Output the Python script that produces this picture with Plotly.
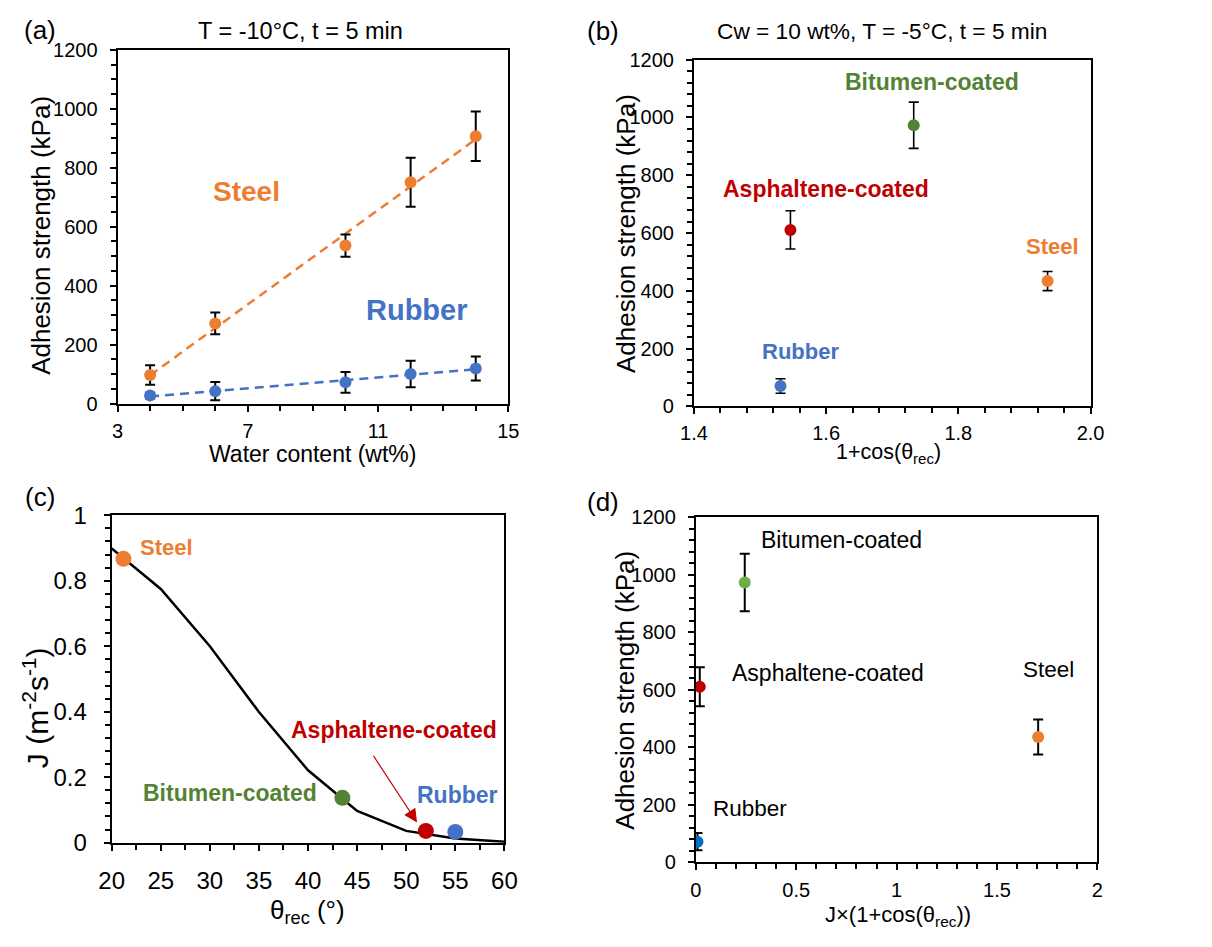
import numpy as np
import plotly.graph_objects as go

W, H = 1212, 947
FONT = "Liberation Sans, Arial, sans-serif"

ORANGE = "#ED7D31"
BLUE = "#4472C4"
GREEN = "#548235"
GREEN_D = "#70AD47"
RED = "#C00000"
BLUE_D = "#0070C0"

# ---------------- data ----------------
# (a) adhesion vs water content
a_water = [4, 6, 10, 12, 14]
a_steel = [97, 272, 536, 751, 907]
a_steel_err = [33, 37, 38, 83, 84]
a_rubber = [27, 42, 72, 100, 119]
a_rubber_err = [10, 31, 35, 45, 41]

# (b) adhesion vs 1+cos(theta_rec)
b_names = ["Rubber", "Asphaltene-coated", "Bitumen-coated", "Steel"]
b_x = [1.531, 1.546, 1.7325, 1.935]
b_y = [71, 611, 973, 434]
b_err = [25, 66, 80, 33]

# (c) nucleation rate J vs theta_rec
c_theta = [20, 25, 30, 35, 40, 45, 50, 55, 60]
c_J = [0.899, 0.775, 0.600, 0.399, 0.221, 0.097, 0.036, 0.013, 0.003]
c_names = ["Steel", "Bitumen-coated", "Asphaltene-coated", "Rubber"]
c_pt_theta = [21.2, 43.5, 52.0, 55.0]
c_pt_J = [0.867, 0.137, 0.036, 0.033]

# (d) adhesion vs J*(1+cos(theta_rec))
d_names = ["Rubber", "Asphaltene-coated", "Bitumen-coated", "Steel"]
d_x = [0.008, 0.0195, 0.2435, 1.705]
d_y = [71, 610, 973, 435]
d_err = [30, 68, 100, 61]

b_colors = [BLUE, RED, GREEN, ORANGE]
c_colors = [ORANGE, GREEN, RED, BLUE]
d_colors = [BLUE_D, RED, GREEN_D, ORANGE]


def px(x):
    return x / W


def py(y):
    return 1 - y / H


fig = go.Figure()

# ---- panel (a)
for yv, col in [(a_steel, ORANGE), (a_rubber, BLUE)]:
    k, b0 = np.polyfit(a_water, yv, 1)
    xs = [min(a_water), max(a_water)]
    fig.add_trace(go.Scatter(x=xs, y=[k * v + b0 for v in xs], mode="lines",
                             line=dict(color=col, width=2.5, dash="9px,6px"),
                             xaxis="x", yaxis="y", showlegend=False, hoverinfo="skip"))
for yv, ev, col in [(a_steel, a_steel_err, ORANGE), (a_rubber, a_rubber_err, BLUE)]:
    fig.add_trace(go.Scatter(x=a_water, y=yv, mode="markers",
                             marker=dict(color=col, size=12),
                             error_y=dict(type="data", array=ev, color="black", thickness=2, width=5),
                             xaxis="x", yaxis="y", showlegend=False))

# ---- panel (b)
for i in range(4):
    fig.add_trace(go.Scatter(x=[b_x[i]], y=[b_y[i]], mode="markers",
                             marker=dict(color=b_colors[i], size=12),
                             error_y=dict(type="data", array=[b_err[i]], color="black", thickness=1.6, width=5),
                             xaxis="x2", yaxis="y2", showlegend=False, name=b_names[i]))

# ---- panel (c)
fig.add_trace(go.Scatter(x=c_theta, y=c_J, mode="lines", line=dict(color="black", width=2.5),
                         xaxis="x3", yaxis="y3", showlegend=False))
for i in range(4):
    fig.add_trace(go.Scatter(x=[c_pt_theta[i]], y=[c_pt_J[i]], mode="markers",
                             marker=dict(color=c_colors[i], size=16),
                             xaxis="x3", yaxis="y3", showlegend=False, name=c_names[i]))

# ---- panel (d)
for i in range(4):
    fig.add_trace(go.Scatter(x=[d_x[i]], y=[d_y[i]], mode="markers",
                             marker=dict(color=d_colors[i], size=12),
                             error_y=dict(type="data", array=[d_err[i]], color="black", thickness=2, width=5),
                             xaxis="x4", yaxis="y4", showlegend=False, name=d_names[i]))


def axis(domain, rng, dtick, minor, tick0=None, fs=20, fmt=None, anchor=None, standoff=4):
    d = dict(domain=domain, range=rng, dtick=dtick, showline=True, linecolor="black",
             linewidth=2, mirror=True, ticks="outside", tickcolor="black", tickwidth=2,
             ticklen=6, showgrid=False, zeroline=False, ticklabelstandoff=standoff,
             tickfont=dict(family=FONT, size=fs, color="black"),
             minor=dict(ticks="outside", dtick=minor, ticklen=5, tickwidth=2,
                        tickcolor="black", showgrid=False),
             anchor=anchor, fixedrange=True)
    if tick0 is not None:
        d["tick0"] = tick0
    if fmt:
        d["tickformat"] = fmt
    return d


fig.update_layout(
    width=W, height=H, margin=dict(l=0, r=0, t=0, b=0),
    paper_bgcolor="white", plot_bgcolor="white",
    font=dict(family=FONT, color="black"),
    xaxis=axis([px(106), px(506)], [3, 15], 4, 1, tick0=3, anchor="y", standoff=2),
    yaxis=axis([py(401), py(37)], [0, 1200], 200, 50, anchor="x", standoff=8),
    xaxis2=axis([px(696), px(1102)], [1.4, 2.0], 0.2, 0.04, tick0=1.4, fmt=".1f", anchor="y2", standoff=2),
    yaxis2=axis([py(404), py(47)], [0, 1200], 200, 40, anchor="x2", standoff=8),
    xaxis3=axis([px(100), px(502)], [20, 60], 5, 2.5, tick0=20, fs=24, anchor="y3", standoff=10),
    yaxis3=axis([py(853), py(516)], [0, 1], 0.2, 0.04, fs=24, anchor="x3", standoff=12),
    xaxis4=axis([px(698), px(1109)], [0, 2], 0.5, 0.1, tick0=0, anchor="y4", standoff=3),
    yaxis4=axis([py(873), py(518)], [0, 1200], 200, 40, anchor="x4", standoff=8),
)

ann = []


def text(x, y, s, size, color="black", bold=False, angle=0, xanchor="center"):
    if bold:
        s = "<b>" + s + "</b>"
    ann.append(dict(x=px(x), y=py(y), xref="paper", yref="paper", text=s, showarrow=False,
                    font=dict(family=FONT, size=size, color=color), textangle=angle,
                    xanchor=xanchor, yanchor="middle"))


# panel letters
text(27, 16, "(a)", 26)
text(603, 17, "(b)", 26)
text(27, 497, "(c)", 26)
text(603, 502, "(d)", 26)

# titles
text(293, 17, "T = -10\u00b0C, t = 5 min", 23.5)
text(889, 17, "Cw = 10 wt%, T = -5\u00b0C, t = 5 min", 22.7)

# axis titles
text(28, 228, "Adhesion strength (kPa)", 26, angle=-90)
text(306, 453, "Water content (wt%)", 23)
text(626, 226, "Adhesion strength (kPa)", 26, angle=-90)
text(895, 452, "1+cos(\u03b8<sub>rec</sub>)", 21.5)
text(22, 714, "J (m<sup>-2</sup>s<sup>-1</sup>)", 30, angle=-90)
text(300, 924, "\u03b8<sub>rec</sub> (\u00b0)", 26)
text(626, 696, "Adhesion strength (kPa)", 26, angle=-90)
text(905, 928, "J\u00d7(1+cos(\u03b8<sub>rec</sub>))", 22)

# in-plot labels
text(238, 183, "Steel", 28, ORANGE, True)
text(413, 305, "Rubber", 29, BLUE, True)

text(940, 70, "Bitumen-coated", 23, GREEN, True)
text(831, 180, "Asphaltene-coated", 23, RED, True)
text(1063, 239, "Steel", 22, ORANGE, True)
text(805, 347, "Rubber", 22, BLUE, True)

text(156, 549, "Steel", 22, ORANGE, True)
text(221, 802, "Bitumen-coated", 23, GREEN, True)
text(389, 737, "Asphaltene-coated", 23, RED, True)
text(410, 804, "Rubber", 23, BLUE, True, xanchor="left")

text(847, 541, "Bitumen-coated", 23)
text(833, 678, "Asphaltene-coated", 23)
text(1059, 675, "Steel", 22.5)
text(753, 818, "Rubber", 22.5)

# arrow in (c)
ann.append(dict(x=51.1, y=0.062, xref="x3", yref="y3", ax=46.56, ay=0.27,
                axref="x3", ayref="y3", text="", showarrow=True, arrowhead=2,
                arrowsize=2.2, arrowwidth=1.2, arrowcolor=RED))

fig.update_layout(annotations=ann)
fig.write_html("out.html")
